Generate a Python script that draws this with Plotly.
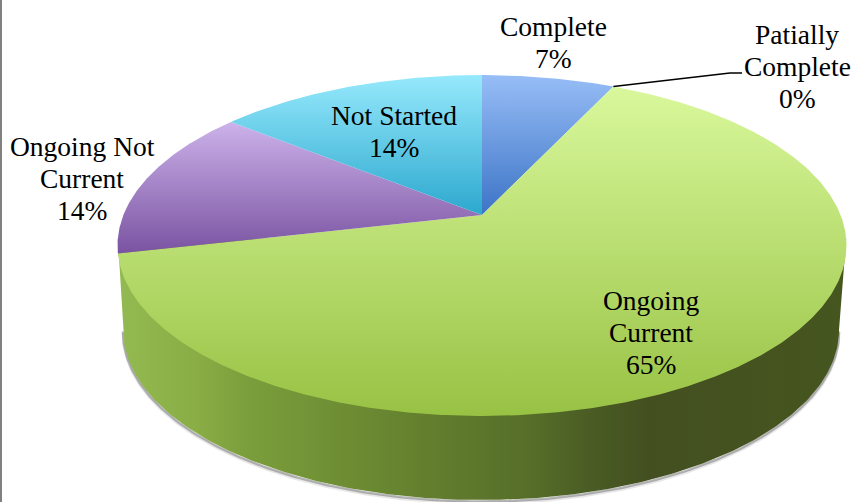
import numpy as np
import plotly.graph_objects as go

categories = ["Complete", "Patially<br>Complete", "Ongoing<br>Current", "Ongoing Not<br>Current", "Not Started"]
values = [7.0, 0.0, 64.4, 14.4, 14.2]
percent_labels = ["7%", "0%", "65%", "14%", "14%"]
tops = ["#97bdf6", "#dddddd", "#d9f89c", "#ccb2ea", "#96e9fc"]
bottoms = ["#3c74c6", "#dddddd", "#98c244", "#7a53a1", "#2ca8ce"]
label_x = [553, 797, 651, 82, 394]
label_y = [42, 66, 332, 178, 131]

side_stops = [[0, "#93ba52"], [0.11, "#8aad45"], [0.18, "#7b9e3c"], [0.32, "#6d8c33"],
              [0.457, "#607b2d"], [0.567, "#566e29"], [0.65, "#4a5c24"], [0.73, "#434f20"], [1, "#46561f"]]

APEX_X, APEX_Y, CX, CY, K = 482, 215, 358.6, 165, 0.179
BOT_X, BOT_Y, BOT_A, BOT_B = 481, 330, 358, 170
LINE_STEP = 32


def project(theta):
    u, v = np.sin(theta), np.cos(theta)
    d = 1 + K * v
    return APEX_X + CX * u / d, APEX_Y - CY * v / d


fig = go.Figure()

# drop shadow and side wall
t = np.linspace(0, np.pi, 241)
bx = BOT_X - BOT_A * np.cos(t)
by = BOT_Y + BOT_B * np.sin(t)
lx, ly = project(np.radians(262))
rx, ry = project(np.radians(98))
wall_x = np.concatenate([[lx], bx, [rx]])
wall_y = np.concatenate([[ly], by, [ry]])
for dy, w, col in [(3, 3, "rgba(120,120,120,0.18)"), (1.5, 2.5, "rgba(110,110,110,0.5)")]:
    fig.add_trace(go.Scatter(x=bx, y=by + dy, mode="lines", line=dict(color=col, width=w),
                             hoverinfo="skip", showlegend=False))
fig.add_trace(go.Scatter(x=wall_x, y=wall_y, mode="lines", line=dict(width=0), fill="toself",
                         fillgradient=dict(type="horizontal", colorscale=side_stops, start=117, stop=845),
                         hoverinfo="skip", showlegend=False))

# top face
total = sum(values)
cum = 0.0
for name, val, c0, c1 in zip(categories, values, tops, bottoms):
    a0 = 2 * np.pi * cum / total
    a1 = 2 * np.pi * (cum + val) / total
    cum += val
    if val <= 0:
        continue
    th = np.linspace(a0, a1, max(int(val * 8), 24))
    px, py = project(th)
    xs = np.concatenate([[APEX_X], px, [APEX_X]])
    ys = np.concatenate([[APEX_Y], py, [APEX_Y]])
    fig.add_trace(go.Scatter(x=xs, y=ys, mode="lines", line=dict(width=0), fill="toself",
                             fillgradient=dict(type="vertical", colorscale=[[0, c0], [1, c1]],
                                               start=float(ys.min()), stop=float(ys.max())),
                             name=name.replace("<br>", " "), showlegend=False))

# leader line for the 0% slice
sx, sy = project(2 * np.pi * values[0] / total)
fig.add_trace(go.Scatter(x=[sx, 730, 742], y=[sy, 73, 73], mode="lines", line=dict(color="black", width=1.5),
                         hoverinfo="skip", showlegend=False))

for name, pct, x, y in zip(categories, percent_labels, label_x, label_y):
    lines = name.split("<br>") + [pct]
    for i, line in enumerate(lines):
        fig.add_annotation(x=x, y=y + (i - (len(lines) - 1) / 2) * LINE_STEP, text=line, showarrow=False,
                           font=dict(family="Liberation Serif", size=27.5, color="black"))

fig.add_shape(type="rect", x0=0, x1=2, y0=0, y1=502, line=dict(width=0), fillcolor="#808080")
fig.update_layout(width=854, height=502, margin=dict(l=0, r=0, t=0, b=0), autosize=False,
                  plot_bgcolor="white", paper_bgcolor="white",
                  xaxis=dict(range=[0, 854], visible=False, fixedrange=True),
                  yaxis=dict(range=[502, 0], visible=False, fixedrange=True))
fig.write_html("out.html", config={"displayModeBar": False},
               post_script="document.body.style.margin='0';document.documentElement.style.overflow='hidden';")
